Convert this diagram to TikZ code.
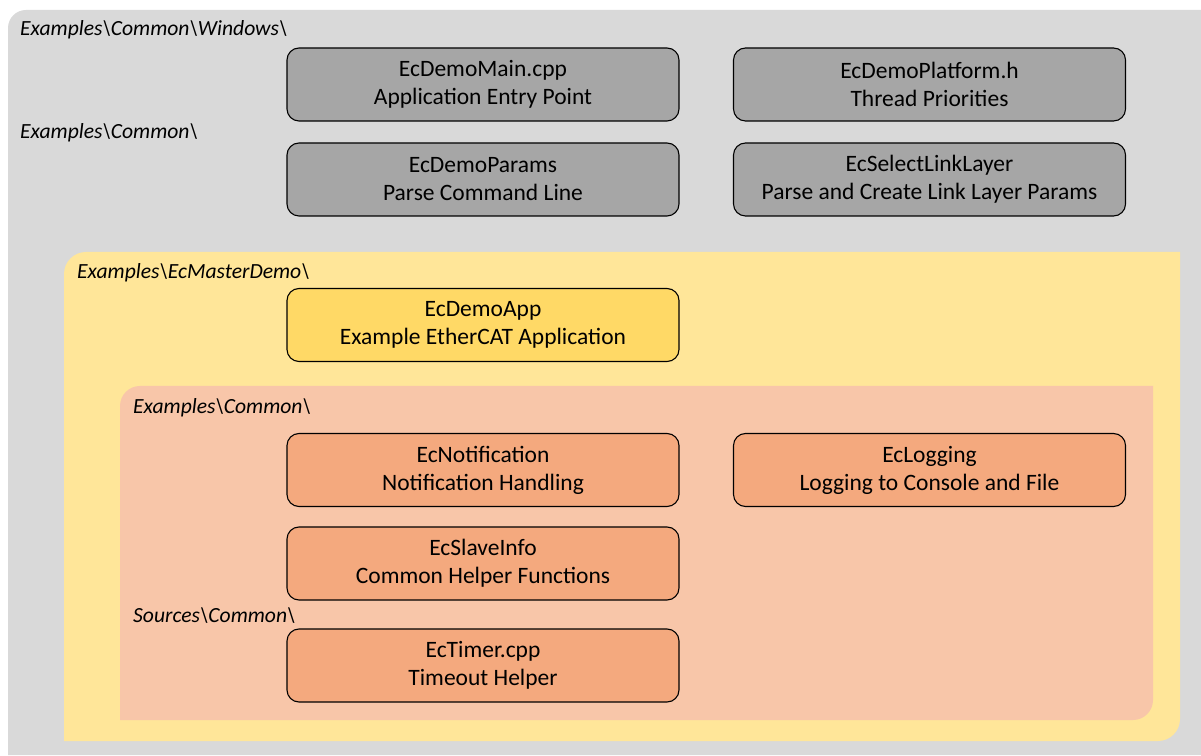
\documentclass[tikz,border=0pt]{standalone}
\usepackage{fontspec}
\setmainfont{Carlito}
\usepackage{xcolor}
\usepackage{tikz}

\definecolor{bggrey}{HTML}{D9D9D9}
\definecolor{boxgrey}{HTML}{A6A6A6}
\definecolor{demoyellow}{HTML}{FFE699}
\definecolor{appyellow}{HTML}{FFD966}
\definecolor{commonsalmon}{HTML}{F8C6A9}
\definecolor{filesalmon}{HTML}{F4A97E}

\tikzset{
    filebox/.style={draw=black, line width=1.1pt, rounded corners=12pt, minimum width=392pt, minimum height=73pt, inner sep=0pt, align=center, font=\fontsize{23.5}{28}\selectfont},
    greyfile/.style={filebox, fill=boxgrey},
    appfile/.style={filebox, fill=appyellow},
    salmonfile/.style={filebox, fill=filesalmon},
    pathlabel/.style={anchor=base west, inner sep=0pt, font=\fontsize{21.6}{26}\selectfont\itshape}
}

\begin{document}
\begin{tikzpicture}[x=1pt, y=1pt]
    \useasboundingbox (0,0) rectangle (1201,755);

    \fill[bggrey] (8,0) -- (8,727) arc[start angle=180, end angle=90, radius=18] -- (1201,745) -- (1201,0) -- cycle;
    \fill[demoyellow] (64,14) -- (64,481) arc[start angle=180, end angle=90, radius=22] -- (1180,503) -- (1180,36) arc[start angle=0, end angle=-90, radius=22] -- cycle;
    \fill[commonsalmon] (120,35) -- (120,349) arc[start angle=180, end angle=90, radius=20] -- (1153,369) -- (1153,55) arc[start angle=0, end angle=-90, radius=20] -- cycle;

    \node[pathlabel] (winpath) at (20,719) {Examples\textbackslash Common\textbackslash Windows\textbackslash};
    \node[pathlabel] (commonpath) at (20,616) {Examples\textbackslash Common\textbackslash};
    \node[pathlabel] (demopath) at (77,476) {Examples\textbackslash EcMasterDemo\textbackslash};
    \node[pathlabel] (helperpath) at (133,341) {Examples\textbackslash Common\textbackslash};
    \node[pathlabel] (sourcepath) at (133,133) {Sources\textbackslash Common\textbackslash};

    \node[greyfile] (main) at (483,670.5) {EcDemoMain.cpp\\Application Entry Point};
    \node[greyfile] (platform) at (929.5,670.5) {EcDemoPlatform.h\\Thread Priorities};
    \node[greyfile] (params) at (483,575.5) {EcDemoParams\\Parse Command Line};
    \node[greyfile] (linklayer) at (929.5,575.5) {EcSelectLinkLayer\\Parse and Create Link Layer Params};

    \node[appfile] (app) at (483,430) {EcDemoApp\\Example EtherCAT Application};

    \node[salmonfile] (notify) at (483,285) {EcNotification\\Notification Handling};
    \node[salmonfile] (logging) at (929.5,285) {EcLogging\\Logging to Console and File};
    \node[salmonfile] (slaveinfo) at (483,191.5) {EcSlaveInfo\\Common Helper Functions};
    \node[salmonfile] (timer) at (483,89.5) {EcTimer.cpp\\Timeout Helper};
\end{tikzpicture}
\end{document}
